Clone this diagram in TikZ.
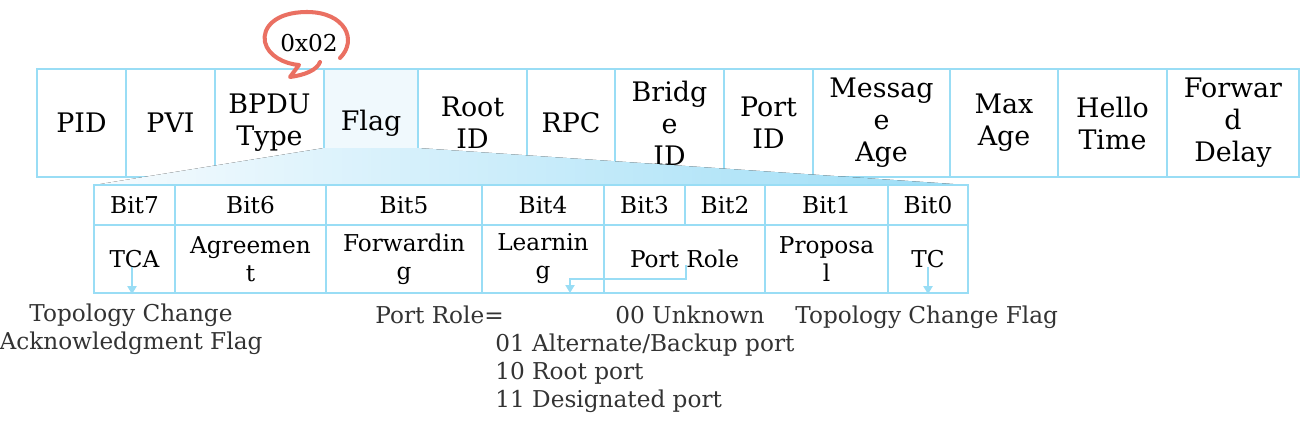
\documentclass[tikz,border=0pt]{standalone}
\usepackage{fontspec}
\setmainfont{DejaVu Serif}
\usetikzlibrary{arrows.meta}
\definecolor{framecol}{RGB}{153,221,245}
\definecolor{flagcol}{RGB}{240,249,253}
\definecolor{fadecol}{RGB}{246,251,254}
\definecolor{deepcol}{RGB}{156,221,246}
\definecolor{bubblecol}{RGB}{234,112,98}
\definecolor{notecol}{RGB}{51,51,51}

\begin{document}
\begin{tikzpicture}
    [
    x=0.02cm, y=-0.02cm,
    field/.style={
      draw=framecol,
      line width=1.3pt,
      fill=white,
      minimum height=2.16cm,
      inner sep=0pt,
      align=center,
      font=\fontsize{15.3}{18.2}\selectfont
    },
    bitname/.style={
      draw=framecol,
      line width=1.3pt,
      fill=white,
      minimum height=0.8cm,
      inner sep=0pt,
      align=center,
      font=\fontsize{13.2}{15.9}\selectfont
    },
    bitmeaning/.style={
      bitname,
      minimum height=1.36cm
    },
    pointer/.style={
      draw=framecol,
      line width=1.3pt,
      -{Triangle[width=0.18cm,length=0.16cm]}
    },
    note/.style={
      text=notecol,
      inner sep=0pt,
      font=\fontsize{13.2}{15.9}\selectfont
    }]
    \useasboundingbox (0,0) rectangle (1300,420);
    % BPDU fields
    \node (pid) at (81.5,123) [field, minimum width=1.78cm] {PID};
    \node (pvi) at (170.5,123) [field, minimum width=1.78cm] {PVI};
    \node (type) at (269.5,123) [field, minimum width=2.18cm] {BPDU\\Type};
    \node (flag) at (371,123) [field, minimum width=1.88cm, fill=flagcol] {Flag};
    \node (rootid) at (472.5,123) [field, minimum width=2.18cm] {Root\\ID};
    \node (rpc) at (571,123) [field, minimum width=1.76cm] {RPC};
    \node (bridgeid) at (669.5,123) [field, minimum width=2.18cm] {Bridg\\e\\ID};
    \node (portid) at (768.5,123) [field, minimum width=1.78cm] {Port\\ID};
    \node (msgage) at (881.5,123) [field, minimum width=2.74cm] {Messag\\e\\Age};
    \node (maxage) at (1004,123) [field, minimum width=2.16cm] {Max\\Age};
    \node (hello) at (1112.5,123) [field, minimum width=2.18cm] {Hello\\Time};
    \node (fwd) at (1233,123) [field, minimum width=2.64cm] {Forwar\\d\\Delay};
    % zoom wedge
    \fill[left color=fadecol, right color=deepcol]
      (94,185) -- (324,148) -- (418,148) -- (968,185) -- cycle;
    % flag bits
    \node (bit7) at (134.5,205) [bitname, minimum width=1.62cm] {Bit7};
    \node (bit6) at (250.5,205) [bitname, minimum width=3.02cm] {Bit6};
    \node (bit5) at (404,205) [bitname, minimum width=3.12cm] {Bit5};
    \node (bit4) at (543,205) [bitname, minimum width=2.44cm] {Bit4};
    \node (bit3) at (644.5,205) [bitname, minimum width=1.62cm] {Bit3};
    \node (bit2) at (725,205) [bitname, minimum width=1.60cm] {Bit2};
    \node (bit1) at (826.5,205) [bitname, minimum width=2.46cm] {Bit1};
    \node (bit0) at (928,205) [bitname, minimum width=1.60cm] {Bit0};
    \node (tca) at (134.5,259) [bitmeaning, minimum width=1.62cm] {TCA};
    \node (agree) at (250.5,259) [bitmeaning, minimum width=3.02cm] {Agreemen\\t};
    \node (forward) at (404,259) [bitmeaning, minimum width=3.12cm] {Forwardin\\g};
    \node (learn) at (543,259) [bitmeaning, minimum width=2.44cm] {Learnin\\g};
    \node (role) at (684.5,259) [bitmeaning, minimum width=3.22cm] {Port Role};
    \node (propose) at (826.5,259) [bitmeaning, minimum width=2.46cm] {Proposa\\l};
    \node (tc) at (928,259) [bitmeaning, minimum width=1.60cm] {TC};
    % pointers
    \coordinate (roleend) at (570,293);
    \draw[pointer] ([xshift=-0.05cm,yshift=-0.16cm]tca.center) -- ([xshift=-0.05cm]tca.south);
    \draw[pointer] ([yshift=-0.16cm]tc.center) -- (tc.south);
    \draw[pointer] ([xshift=0.03cm,yshift=-0.12cm]role.center) -- ++(0,14) -| (roleend);
    % notes
    \node (tcanote) at (131,329) [note, align=center] {Topology Change\\Acknowledgment Flag};
    \node (rolenote) at (375,323) [note, anchor=base west] {Port Role=};
    \node (unknown) at (615,323) [note, anchor=base west] {00 Unknown};
    \node (rolelist) at (495,334) [note, anchor=north west, align=left]
      {01 Alternate/Backup port\\10 Root port\\11 Designated port};
    \node (tcnote) at (795,323) [note, anchor=base west] {Topology Change Flag};
    % value bubble
    \draw[bubblecol, line width=2.3pt, line cap=round, line join=round]
      (340,58) .. controls (358,40) and (345,12) .. (307,12)
      .. controls (275,12) and (262,28) .. (265,42)
      .. controls (268,56) and (285,64) .. (299,65)
      -- (290,77) .. controls (305,75) and (317,70) .. (320,62);
    \node (hexval) at (309,43) [note, text=black] {0x02};
  \end{tikzpicture}
\end{document}
